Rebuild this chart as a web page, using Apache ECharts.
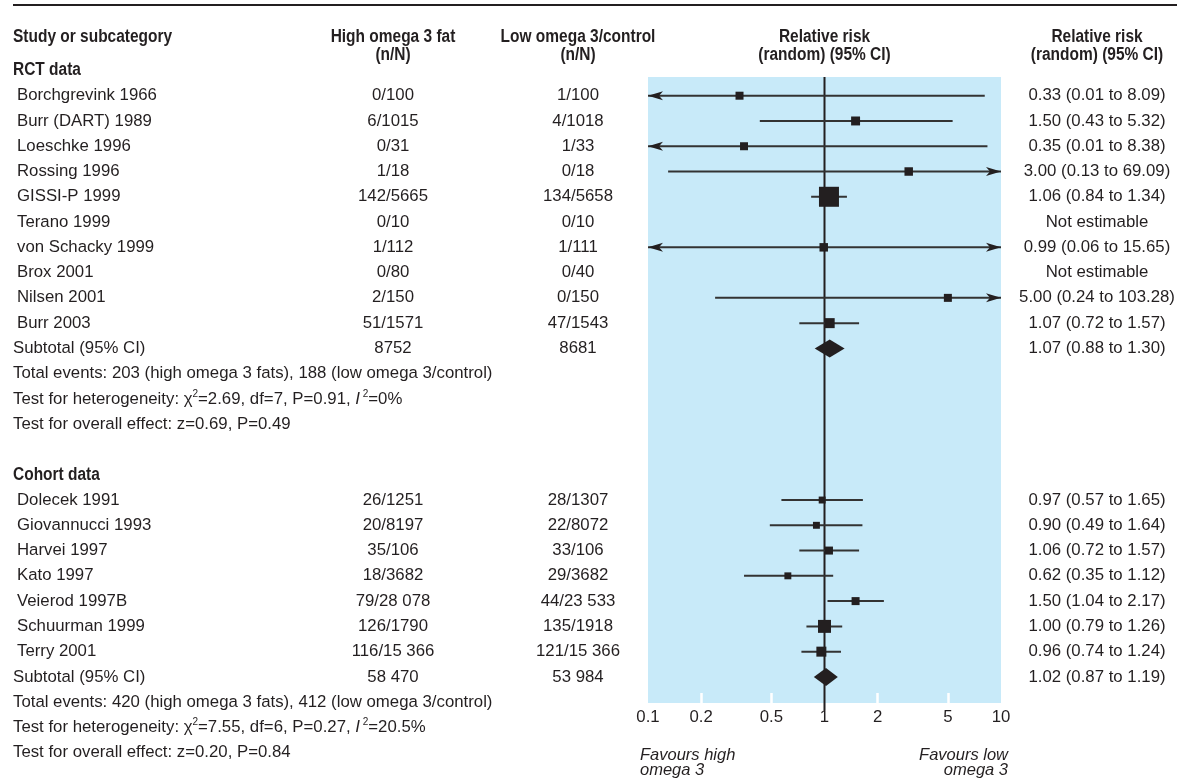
<!DOCTYPE html>
<html><head><meta charset="utf-8">
<script src="https://cdn.jsdelivr.net/npm/echarts@6/dist/echarts.min.js"></script>
<style>html,body{margin:0;padding:0;background:#fff}#c{width:1177px;height:780px}</style>
</head><body><div id="c"></div>
<script>
// ---------- DATA ----------
const rctStudies = ['Borchgrevink 1966','Burr (DART) 1989','Loeschke 1996','Rossing 1996','GISSI-P 1999','Terano 1999','von Schacky 1999','Brox 2001','Nilsen 2001','Burr 2003'];
const rctHigh = ['0/100','6/1015','0/31','1/18','142/5665','0/10','1/112','0/80','2/150','51/1571'];
const rctLow  = ['1/100','4/1018','1/33','0/18','134/5658','0/10','1/111','0/40','0/150','47/1543'];
const rctRR = [0.33, 1.50, 0.35, 3.00, 1.06, null, 0.99, null, 5.00, 1.07];
const rctLo = [0.01, 0.43, 0.01, 0.13, 0.84, null, 0.06, null, 0.24, 0.72];
const rctHi = [8.09, 5.32, 8.38, 69.09, 1.34, null, 15.65, null, 103.28, 1.57];
const rctWeight = [16, 20, 16, 18, 100, null, 18, null, 16, 25];
const rctTotals = ['8752', '8681'];
const rctPooled = [1.07, 0.88, 1.30];
const rctNotes = [
  'Total events: 203 (high omega 3 fats), 188 (low omega 3/control)',
  'Test for heterogeneity: χ{sup|2}=2.69, df=7, P=0.91, {it|I}{sup| 2}=0%',
  'Test for overall effect: z=0.69, P=0.49'
];

const cohortStudies = ['Dolecek 1991','Giovannucci 1993','Harvei 1997','Kato 1997','Veierod 1997B','Schuurman 1999','Terry 2001'];
const cohortHigh = ['26/1251','20/8197','35/106','18/3682','79/28 078','126/1790','116/15 366'];
const cohortLow  = ['28/1307','22/8072','33/106','29/3682','44/23 533','135/1918','121/15 366'];
const cohortRR = [0.97, 0.90, 1.06, 0.62, 1.50, 1.00, 0.96];
const cohortLo = [0.57, 0.49, 0.72, 0.35, 1.04, 0.79, 0.74];
const cohortHi = [1.65, 1.64, 1.57, 1.12, 2.17, 1.26, 1.24];
const cohortWeight = [12, 12, 16, 12, 16, 42, 25];
const cohortTotals = ['58 470', '53 984'];
const cohortPooled = [1.02, 0.87, 1.19];
const cohortNotes = [
  'Total events: 420 (high omega 3 fats), 412 (low omega 3/control)',
  'Test for heterogeneity: χ{sup|2}=7.55, df=6, P=0.27, {it|I}{sup| 2}=20.5%',
  'Test for overall effect: z=0.20, P=0.84'
];

const groupTitles = ['RCT data', 'Cohort data'];
const subtotalLabel = 'Subtotal (95% CI)';
const colHeaders = [['Study or subcategory'], ['High omega 3 fat', '(n/N)'], ['Low omega 3/control', '(n/N)'], ['Relative risk', '(random) (95% CI)'], ['Relative risk', '(random) (95% CI)']];
const xTicks = [0.1, 0.2, 0.5, 1, 2, 5, 10];
const favours = [['Favours high', 'omega 3'], ['Favours low', 'omega 3']];

// ---------- LAYOUT ----------
const INK = '#231f20';
const FF = '"Liberation Sans", Arial, Helvetica, sans-serif';
const Y_MIN = -0.74, Y_MAX = 24.032;
const COL_HIGH = 393, COL_LOW = 578, COL_PLOT = 824.5, COL_RR = 1097;

const groups = [
  {title: groupTitles[0], studies: rctStudies, high: rctHigh, low: rctLow, rr: rctRR, lo: rctLo, hi: rctHi, w: rctWeight, totals: rctTotals, pooled: rctPooled, notes: rctNotes},
  {title: groupTitles[1], studies: cohortStudies, high: cohortHigh, low: cohortLow, rr: cohortRR, lo: cohortLo, hi: cohortHi, w: cohortWeight, totals: cohortTotals, pooled: cohortPooled, notes: cohortNotes}
];
// assign row indices (one row per line of the table)
let row = 0;
groups.forEach((g, gi) => {
  if (gi > 0) row += 2; // blank row + group header row
  g.headerRow = row - 1;
  g.firstRow = row;
  row += g.studies.length;
  g.subRow = row;
  row += 1;
  g.noteRow = row;
  row += g.notes.length;
});

const studyData = [], diamondData = [];
groups.forEach(g => {
  g.studies.forEach((s, i) => {
    if (g.rr[i] != null) studyData.push([g.rr[i], g.lo[i], g.hi[i], g.firstRow + i, g.w[i]]);
  });
  diamondData.push([g.pooled[0], g.pooled[1], g.pooled[2], g.subRow]);
});

function fmtRR(rr, lo, hi) {
  if (rr == null) return 'Not estimable';
  return rr.toFixed(2) + ' (' + lo.toFixed(2) + ' to ' + hi.toFixed(2) + ')';
}

const chart = echarts.init(document.getElementById('c'), null, {renderer: 'canvas'});

function arrow(xTip, y, dir) {
  const L = 15, H = 4.5, N = 11;
  return {type: 'polygon', shape: {points: [[xTip, y], [xTip - dir * L, y - H], [xTip - dir * N, y], [xTip - dir * L, y + H]]}, style: {fill: INK}};
}

const option = {
  animation: false,
  backgroundColor: '#fff',
  grid: {left: 648, top: 77, width: 353, height: 626, show: true, backgroundColor: '#c8eaf9', borderWidth: 0, containLabel: false, outerBoundsMode: 'none'},
  xAxis: [
    {type: 'log', logBase: 10, min: 0.1, max: 10, show: false, position: 'bottom'},
    {type: 'value', min: -1, max: 1, position: 'bottom',
      axisLine: {show: false}, splitLine: {show: false},
      axisTick: {show: true, inside: true, length: 10, customValues: xTicks.filter(v => v !== 1 && v !== 0.1 && v !== 10).map(Math.log10), lineStyle: {color: '#ffffff', width: 2.5}},
      axisLabel: {show: true, margin: 6, customValues: xTicks.map(Math.log10), color: INK, fontSize: 16.8, fontFamily: FF,
        formatter: v => String(+Math.pow(10, v).toPrecision(2))}
    }
  ],
  yAxis: {type: 'value', inverse: true, min: Y_MIN, max: Y_MAX, show: false},
  series: [
    {type: 'custom', xAxisIndex: 0, yAxisIndex: 0, z: 2, data: [[1, Y_MIN, Y_MAX]],
      renderItem: (params, api) => {
        const top = api.coord([api.value(0), api.value(1)]);
        const bot = api.coord([api.value(0), api.value(2)]);
        return {type: 'line', shape: {x1: top[0], y1: top[1], x2: bot[0], y2: bot[1] + 7}, style: {stroke: INK, lineWidth: 2}};
      }},
    {type: 'custom', xAxisIndex: 0, yAxisIndex: 0, z: 3, data: studyData, encode: {x: [0, 1, 2], y: 3},
      renderItem: (params, api) => {
        const rr = api.value(0), lo = api.value(1), hi = api.value(2), r = api.value(3), w = api.value(4);
        const c = api.coord([rr, r]);
        const y = c[1];
        const xMin = api.coord([0.1, r])[0], xMax = api.coord([10, r])[0];
        const xl = lo < 0.1 ? xMin : api.coord([lo, r])[0];
        const xr = hi > 10 ? xMax : api.coord([hi, r])[0];
        const s = 20 * Math.sqrt(w / 100);
        const children = [
          {type: 'line', shape: {x1: xl, y1: y, x2: xr, y2: y}, style: {stroke: '#333333', lineWidth: 2}}
        ];
        if (lo < 0.1) children.push(arrow(xMin, y, -1));
        if (hi > 10) children.push(arrow(xMax, y, 1));
        children.push({type: 'rect', shape: {x: c[0] - s / 2, y: y - s / 2, width: s, height: s}, style: {fill: INK}});
        return {type: 'group', children};
      }},
    {type: 'custom', xAxisIndex: 0, yAxisIndex: 0, z: 3, data: diamondData, encode: {x: [0, 1, 2], y: 3},
      renderItem: (params, api) => {
        const r = api.value(3);
        const c = api.coord([api.value(0), r]);
        const xl = api.coord([api.value(1), r])[0];
        const xr = api.coord([api.value(2), r])[0];
        const h = 9;
        return {type: 'polygon', shape: {points: [[xl, c[1]], [c[0], c[1] - h], [xr, c[1]], [c[0], c[1] + h]]}, style: {fill: INK}};
      }}
  ]
};
chart.setOption(option);

// ---------- TEXT ----------
const rowY = r => chart.convertToPixel({yAxisIndex: 0}, r);
function txt(x, y, text, align, extra) {
  return Object.assign({type: 'text', x, y, silent: true, z: 10,
    style: {text, fill: INK, fontSize: 16.8, fontFamily: FF, align: align || 'left', verticalAlign: 'middle'}}, extra || {});
}
function bold(x, y, text, align) {
  return {type: 'text', x, y, silent: true, z: 10, scaleX: 0.86,
    style: {text, fill: INK, fontSize: 18, fontWeight: 'bold', fontFamily: FF, align: align || 'left', verticalAlign: 'middle'}};
}
function rich(x, y, text) {
  return {type: 'text', x, y, silent: true, z: 10,
    style: {text, fill: INK, fontSize: 16.8, fontFamily: FF, lineHeight: 20, align: 'left', verticalAlign: 'middle',
      rich: {
        sup: {fontSize: 10, fontFamily: FF, fill: INK, lineHeight: 14, verticalAlign: 'top'},
        it: {fontSize: 16.8, fontFamily: FF, fontStyle: 'italic', fill: INK, lineHeight: 20}
      }}};
}

const els = [];
els.push({type: 'line', silent: true, shape: {x1: 13, y1: 5, x2: 1177, y2: 5}, style: {stroke: INK, lineWidth: 2}});
const headerX = [13, COL_HIGH, COL_LOW, COL_PLOT, COL_RR];
const headerY = [37, 55];
colHeaders.forEach((h, i) => {
  h.forEach((line, j) => els.push(bold(headerX[i], headerY[j], line, i === 0 ? 'left' : 'center')));
});

groups.forEach(g => {
  els.push(bold(13, rowY(g.headerRow), g.title, 'left'));
  g.studies.forEach((s, i) => {
    const y = rowY(g.firstRow + i);
    els.push(txt(17, y, s));
    els.push(txt(COL_HIGH, y, g.high[i], 'center'));
    els.push(txt(COL_LOW, y, g.low[i], 'center'));
    els.push(txt(COL_RR, y, fmtRR(g.rr[i], g.lo[i], g.hi[i]), 'center'));
  });
  const ys = rowY(g.subRow);
  els.push(txt(13, ys, subtotalLabel));
  els.push(txt(COL_HIGH, ys, g.totals[0], 'center'));
  els.push(txt(COL_LOW, ys, g.totals[1], 'center'));
  els.push(txt(COL_RR, ys, fmtRR(g.pooled[0], g.pooled[1], g.pooled[2]), 'center'));
  g.notes.forEach((n, j) => {
    const y = rowY(g.noteRow + j);
    els.push(n.indexOf('{') >= 0 ? rich(13, y, n) : txt(13, y, n));
  });
});

// favours labels
const xl0 = 640, xr0 = 1008;
favours[0].forEach((t, j) => els.push(txt(xl0, 755 + j * 15, t, 'left', {style: {text: t, fill: INK, fontSize: 16.5, fontStyle: 'italic', fontFamily: FF, align: 'left', verticalAlign: 'middle'}})));
favours[1].forEach((t, j) => els.push(txt(xr0, 755 + j * 15, t, 'right', {style: {text: t, fill: INK, fontSize: 16.5, fontStyle: 'italic', fontFamily: FF, align: 'right', verticalAlign: 'middle'}})));

chart.setOption({graphic: {elements: els}});
</script></body></html>
